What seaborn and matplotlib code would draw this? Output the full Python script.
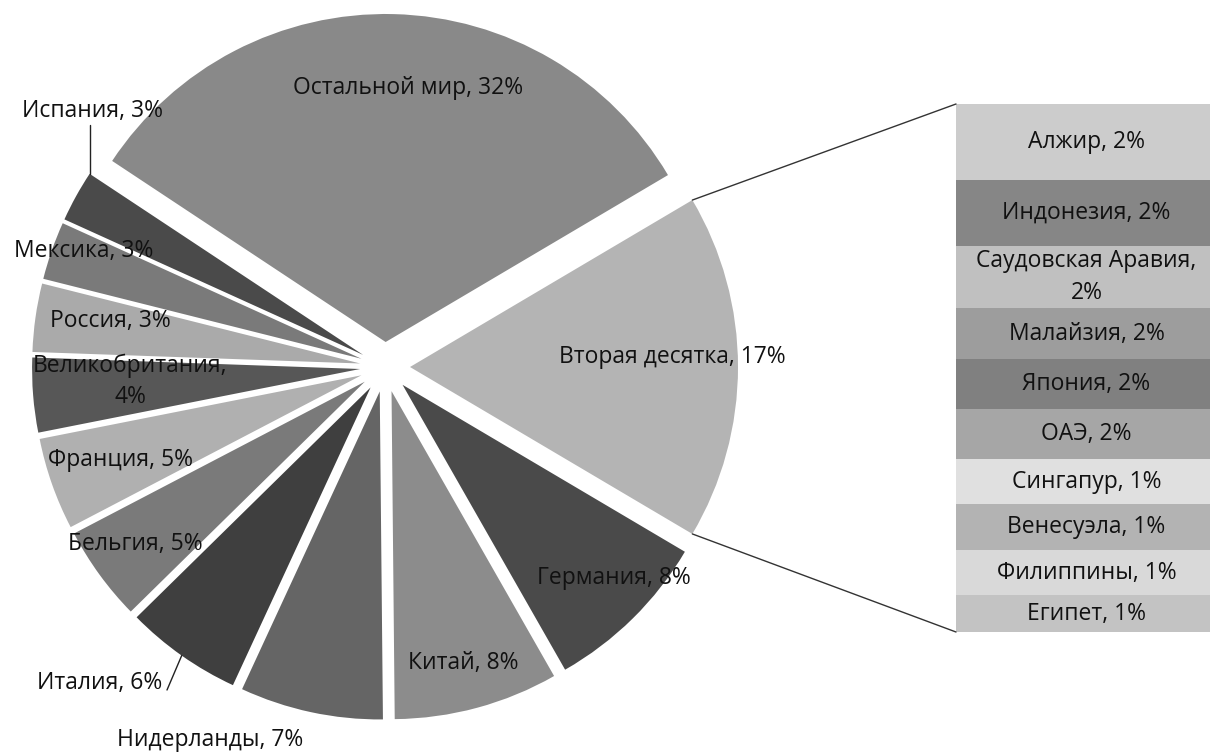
import numpy as np
import pandas as pd
import matplotlib
matplotlib.use("Agg")
import matplotlib.pyplot as plt
import seaborn as sns
from matplotlib.patches import ConnectionPatch

# ---------------- data ----------------
pie_names = ["Германия", "Китай", "Нидерланды", "Италия", "Бельгия", "Франция",
             "Великобритания", "Россия", "Мексика", "Испания", "Остальной мир"]
pie_values = [8.25, 8.1, 7.05, 5.75, 4.7, 4.55, 3.67, 3.36, 2.86, 2.53, 32.2]
pie_pct = [8, 8, 7, 6, 5, 5, 4, 3, 3, 3, 32]

other_name = "Вторая десятка"
other_pct = 17

bar_names = ["Алжир", "Индонезия", "Саудовская Аравия", "Малайзия", "Япония", "ОАЭ",
             "Сингапур", "Венесуэла", "Филиппины", "Египет"]
bar_values = [2.45, 2.12, 2.0, 1.64, 1.61, 1.61, 1.45, 1.48, 1.45, 1.19]
bar_pct = [2, 2, 2, 2, 2, 2, 1, 1, 1, 1]

# ---------------- style ----------------
other_color = "#b4b4b4"
pie_colors = ["#4a4a4a", "#8c8c8c", "#656565", "#3f3f3f", "#7a7a7a", "#b0b0b0",
              "#575757", "#aaaaaa", "#7a7a7a", "#4a4a4a", "#898989"]
bar_colors = ["#cccccc", "#868686", "#c0c0c0", "#9d9d9d", "#808080", "#a6a6a6",
              "#e0e0e0", "#b3b3b3", "#d9d9d9", "#c3c3c3"]

sns.set_theme(style="white")
plt.rcParams["font.family"] = ["Open Sans", "DejaVu Sans"]
FS = 16.5
TXT = "#111111"

W, H = 1210, 753
fig = plt.figure(figsize=(W / 100, H / 100), dpi=100)
fig.patch.set_facecolor("white")
ax = fig.add_axes([0, 0, 1, 1])

# pie geometry (pixel units)
CX, CY, R, EXPL = 385, H - 367, 328, 25

values = [sum(bar_values)] + pie_values
colors = [other_color] + pie_colors
start = 360.0 * values[0] / sum(values) / 2.0
wedges, _ = ax.pie(values, colors=colors, startangle=start, counterclock=False,
                   radius=R, center=(CX, CY), explode=[EXPL] * len(values),
                   wedgeprops=dict(linewidth=0), frame=True)
ax.set_xlim(0, W)
ax.set_ylim(0, H)
ax.set_aspect("auto")
ax.axis("off")

# label layout (image pixel coords, text centers)
labels = [f"{other_name}, {other_pct}%"] + [
    (f"{n},\n{p}%" if n == "Великобритания" else f"{n}, {p}%")
    for n, p in zip(pie_names, pie_pct)]
label_pos = [(672, 357), (614, 578), (463, 663), (210, 740), (100, 683), (135, 544),
             (120, 460), (130, 381), (110, 321), (84, 251), (92, 111), (408, 88)]
for lab, (lx, ly) in zip(labels, label_pos):
    ax.text(lx, H - ly, lab, ha="center", va="center", fontsize=FS, color=TXT,
            linespacing=1.4)

# leader lines
w_sp = wedges[10]
t = np.deg2rad(w_sp.theta1)
px = w_sp.center[0] + w_sp.r * np.cos(t)
py = w_sp.center[1] + w_sp.r * np.sin(t)
ax.plot([px, px], [H - 125, py], color="#222222", lw=1.0)

w_it = wedges[4]
t = np.deg2rad((w_it.theta1 + w_it.theta2) / 2)
px = w_it.center[0] + w_it.r * np.cos(t)
py = w_it.center[1] + w_it.r * np.sin(t)
ax.plot([167, px], [H - 690, py], color="#222222", lw=1.0)

# ---------------- stacked bar ----------------
bx0, by0, bx1, by1 = 956, 104, 1217, 632
ax_bar = fig.add_axes([bx0 / W, (H - by1) / H, (bx1 - bx0) / W, (by1 - by0) / H])
total_bar = sum(bar_values)
tops = total_bar - np.concatenate([[0], np.cumsum(bar_values)[:-1]])
bottoms = tops - np.array(bar_values)
for name, v, b, c, p in zip(bar_names, bar_values, bottoms, bar_colors, bar_pct):
    sns.barplot(x=[0], y=[v], bottom=b, color=c, width=1.0, saturation=1,
                errorbar=None, linewidth=0, ax=ax_bar)
    lab = f"{name},\n{p}%" if name == "Саудовская Аравия" else f"{name}, {p}%"
    ax_bar.text(0, b + v / 2, lab, ha="center", va="center", fontsize=FS,
                color=TXT, linespacing=1.4)
ax_bar.set_xlim(-0.5, 0.5)
ax_bar.set_ylim(0, total_bar)
ax_bar.axis("off")

# connector lines
w0 = wedges[0]
for th, yb in [(w0.theta2, total_bar), (w0.theta1, 0)]:
    tr = np.deg2rad(th)
    pa = (w0.center[0] + w0.r * np.cos(tr), w0.center[1] + w0.r * np.sin(tr))
    con = ConnectionPatch(xyA=pa, coordsA=ax.transData, xyB=(-0.5, yb),
                          coordsB=ax_bar.transData, color="#333333", lw=1.0)
    fig.add_artist(con)

fig.savefig("out.png", dpi=100, facecolor="white")
